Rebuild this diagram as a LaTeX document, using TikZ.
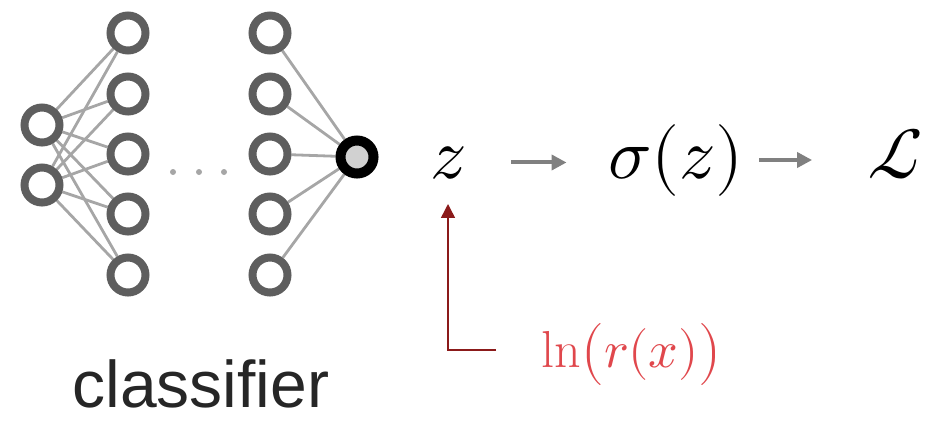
\documentclass[tikz,border=0pt]{standalone}
\usepackage{fontspec}
\usepackage{unicode-math}
\setsansfont{Liberation Sans}
\usepackage{xcolor}
\usetikzlibrary{arrows.meta, positioning, calc, backgrounds}

\definecolor{ringgray}{HTML}{5E5E5E}
\definecolor{edgegray}{HTML}{A6A6A6}
\definecolor{flowgray}{HTML}{808080}
\definecolor{darkred}{HTML}{8B1A1A}
\definecolor{labelred}{HTML}{E0474C}

\begin{document}
\begin{tikzpicture}[
    x=1pt, y=-1pt,
    neuron/.style={
        circle, draw=ringgray, line width=8pt, fill=white,
        minimum size=35pt, inner sep=0pt
    },
    outneuron/.style={
        circle, draw=black, line width=10pt, fill=black!18,
        minimum size=33pt, inner sep=0pt
    },
    synapse/.style={draw=edgegray, line width=2.8pt},
    mathlabel/.style={
        font=\fontsize{72}{80}\selectfont, inner sep=0pt, anchor=base
    },
    flowarrow/.style={
        -{Triangle[length=15pt, width=15pt]}, line width=4pt, draw=flowgray
    },
    logarrow/.style={
        -{Triangle[length=14pt, width=14pt]}, line width=1.5pt, draw=darkred
    }
]
\useasboundingbox (0,0) rectangle (941,421);

% Network: input, first hidden, last hidden, output
\node[neuron] (in_1) at (42,125) {};
\node[neuron] (in_2) at (42,185) {};
\foreach \i/\y in {1/33, 2/94, 3/154, 4/214, 5/275} {
    \node[neuron] (h1_\i) at (128,\y) {};
    \node[neuron] (hn_\i) at (270,\y) {};
}
\node[outneuron] (out) at (357,157) {};

\begin{scope}[on background layer]
    \foreach \i in {1,...,5} {
        \draw[synapse] (in_1) -- (h1_\i);
        \draw[synapse] (in_2) -- (h1_\i);
        \draw[synapse] (hn_\i) -- (out);
    }
\end{scope}

% Ellipsis between hidden layers
\foreach \x/\n in {173/1, 199/2, 224/3} {
    \fill[edgegray] (\x,172) circle (3pt) coordinate (dot_\n);
}

\node[font=\sffamily\fontsize{66}{76}\selectfont, text=black!85,
      inner sep=0pt, anchor=base] (clf_label) at (201,407) {classifier};

% Output chain
\node[mathlabel] (z) at (448,178) {$z$};
\node[mathlabel] (sigma) at (676,178) {$\sigma(z)$};
\node[mathlabel] (loss) at (895,178) {$\mathcal{L}$};

\draw[flowarrow, shorten <=45pt, shorten >=42pt] (z.east) -- (z.east -| sigma.west);
\draw[flowarrow, shorten <=16pt, shorten >=55pt] (sigma.east) -- (sigma.east -| loss.west);

% Log-ratio input
\node[font=\fontsize{52}{60}\selectfont, text=labelred, inner sep=0pt,
      anchor=base] (ln_r) at (632,367) {$\ln\bigl(r(x)\bigr)$};
\coordinate (bend_end) at (496,350);
\draw[logarrow, shorten >=25pt] (bend_end) -| (z.south);

\end{tikzpicture}
\end{document}
